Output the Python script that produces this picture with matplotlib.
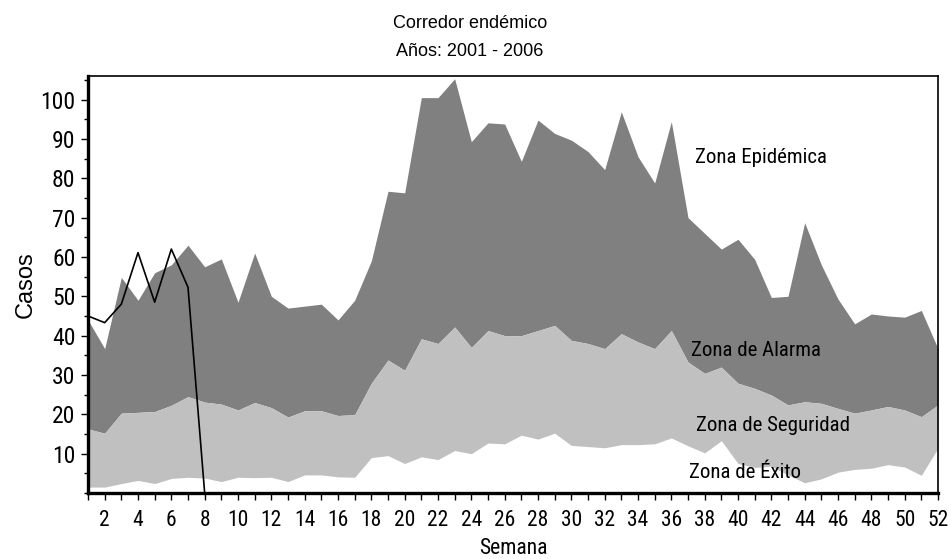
import matplotlib
matplotlib.use("Agg")
import matplotlib.pyplot as plt
from matplotlib.ticker import FixedLocator

weeks = list(range(1, 53))

lower = [1.5, 1.5, 2.4, 3.2, 2.4, 3.7, 4.0, 3.8, 2.9, 4.0,
         3.9, 4.0, 2.9, 4.6, 4.6, 4.1, 4.0, 9.0, 9.5, 7.5,
         9.2, 8.5, 10.8, 10.0, 12.7, 12.5, 14.7, 13.7, 15.2, 12.1,
         11.8, 11.5, 12.3, 12.3, 12.5, 14.0, 12.0, 10.2, 13.3, 7.5,
         6.5, 6.8, 4.6, 2.6, 3.6, 5.3, 6.0, 6.3, 7.2, 6.6,
         4.5, 11.4]

middle = [16.3, 15.2, 20.3, 20.5, 20.7, 22.3, 24.5, 23.1, 22.6, 21.1,
          23.0, 21.7, 19.3, 20.9, 20.9, 19.7, 19.9, 27.9, 33.8, 31.2,
          39.2, 38.0, 42.2, 37.0, 41.3, 40.0, 40.0, 41.3, 42.6, 38.8,
          38.0, 36.7, 40.5, 38.4, 36.7, 41.3, 33.3, 30.4, 32.0, 27.9,
          26.6, 24.9, 22.4, 23.2, 22.8, 21.5, 20.3, 21.1, 22.0, 21.1,
          19.4, 22.4]

upper = [44.0, 36.7, 54.8, 49.0, 56.0, 58.0, 63.0, 57.5, 59.5, 48.5,
         61.0, 50.0, 47.0, 47.5, 48.0, 44.0, 49.0, 59.0, 76.7, 76.3,
         100.5, 100.5, 105.3, 89.3, 94.1, 93.8, 84.3, 94.8, 91.4, 89.7,
         86.8, 82.2, 96.9, 85.5, 78.8, 94.4, 70.0, 66.0, 62.0, 64.5,
         59.4, 49.7, 50.0, 68.7, 58.0, 49.3, 43.0, 45.5, 45.0, 44.7,
         46.4, 36.7]

obs_weeks = [1, 2, 3, 4, 5, 6, 7, 8]
observed = [45.0, 43.3, 48.0, 61.1, 48.5, 62.0, 52.3, 0.0]

xtick_labels = [str(w) for w in range(2, 53, 2)]
ytick_vals = list(range(10, 101, 10))

zone_labels = ["Zona Epidémica", "Zona de Alarma", "Zona de Seguridad", "Zona de Éxito"]

NARROW = ["Roboto Condensed", "Liberation Sans", "DejaVu Sans"]
REG = ["Liberation Sans", "DejaVu Sans"]

fig = plt.figure(figsize=(9.51, 5.59), dpi=100)
ax = fig.add_axes([88/951, 1-493/559, (938-88)/951, (493-76)/559])

dark = "#808080"
light = "#c0c0c0"
ax.fill_between(weeks, middle, upper, color=dark, linewidth=0)
ax.fill_between(weeks, lower, middle, color=light, linewidth=0)
ax.plot(obs_weeks, observed, color="black", linewidth=1.2)

ax.set_xlim(1, 52)
ax.set_ylim(0, 106)

ax.xaxis.set_major_locator(FixedLocator(list(range(2, 53, 2))))
ax.set_xticklabels(xtick_labels, fontfamily=NARROW, fontsize=15.5)
ax.xaxis.set_minor_locator(FixedLocator(list(range(1, 53, 2))))
ax.yaxis.set_major_locator(FixedLocator(ytick_vals))
ax.set_yticklabels([str(v) for v in ytick_vals], fontfamily=NARROW, fontsize=17)
ax.yaxis.set_minor_locator(FixedLocator([0, 5, 15, 25, 35, 45, 55, 65, 75, 85, 95, 105]))

ax.tick_params(axis="x", which="both", direction="out", length=5, width=1, pad=7)
ax.tick_params(axis="y", which="major", direction="out", length=5, width=1, pad=4)
ax.tick_params(axis="y", which="minor", direction="out", length=3, width=1)

for s in ["left", "bottom"]:
    ax.spines[s].set_linewidth(2.4)
for s in ["top", "right"]:
    ax.spines[s].set_linewidth(1.2)

ax.set_xlabel("Semana", fontfamily=NARROW, fontsize=15.5, labelpad=5)
fig.text(26/951, 1-285/559, "Casos", fontfamily=REG, fontsize=17,
         rotation=90, ha="center", va="center")

ax.text(37.4, 83.9, zone_labels[0], fontfamily=NARROW, fontsize=15, va="baseline", ha="left")
ax.text(37.2, 34.7, zone_labels[1], fontfamily=NARROW, fontsize=15, va="baseline", ha="left")
ax.text(37.5, 15.7, zone_labels[2], fontfamily=NARROW, fontsize=15, va="baseline", ha="left")
ax.text(37.05, 3.7, zone_labels[3], fontfamily=NARROW, fontsize=15, va="baseline", ha="left")

fig.text(470/951, 1-24/559, "Corredor endémico", fontfamily=REG, fontsize=13, ha="center", va="center")
fig.text(470/951, 1-51/559, "Años: 2001 - 2006", fontfamily=REG, fontsize=13, ha="center", va="center")

fig.savefig("out.png", dpi=100)
